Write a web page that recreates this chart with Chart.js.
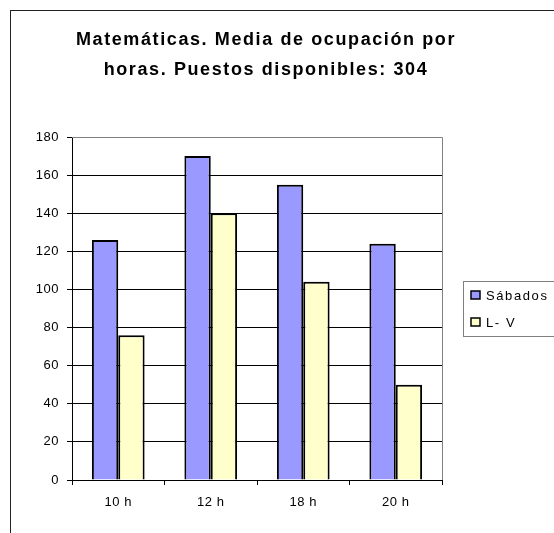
<!DOCTYPE html>
<html>
<head>
<meta charset="utf-8">
<script src="https://cdn.jsdelivr.net/npm/chart.js@4/dist/chart.umd.min.js"></script>
<style>
  html, body { margin: 0; padding: 0; background: #fff; }
  canvas { display: block; }
</style>
</head>
<body>
<canvas id="chart" width="554" height="533"></canvas>
<script>
const horas = ['10 h', '12 h', '18 h', '20 h'];
const sabados = [126, 170, 155, 124];
const lunesViernes = [76, 140, 104, 50];
const tituloLineas = ['Matemáticas. Media de ocupación por', 'horas. Puestos disponibles: 304'];

const FONT = "'Liberation Sans', Arial, sans-serif";

// marco exterior, borde gris del area de trazado y leyenda
const marcoPlugin = {
    id: 'marco',
    beforeDraw(chart) {
        const ctx = chart.ctx;
        ctx.save();
        ctx.fillStyle = '#fff';
        ctx.fillRect(0, 0, chart.width, chart.height);
        ctx.strokeStyle = '#222';
        ctx.lineWidth = 1;
        ctx.strokeRect(10.5, 10.5, 700, 700);
        ctx.restore();
        // el titulo de Excel sale con letras espaciadas
        ctx.letterSpacing = '1.6px';
    },
    beforeDatasetsDraw(chart) {
        chart.ctx.letterSpacing = '0.5px';
    },
    afterDraw(chart) {
        const a = chart.chartArea;
        const ctx = chart.ctx;
        ctx.save();
        ctx.strokeStyle = '#808080';
        ctx.lineWidth = 1;
        ctx.beginPath();
        ctx.moveTo(a.left, Math.round(a.top) + 0.5);
        ctx.lineTo(Math.round(a.right) + 0.5, Math.round(a.top) + 0.5);
        ctx.lineTo(Math.round(a.right) + 0.5, a.bottom);
        ctx.stroke();

        // leyenda
        ctx.strokeStyle = '#808080';
        ctx.strokeRect(463.5, 281.5, 120, 55);
        ctx.font = '13px ' + FONT;
        ctx.letterSpacing = '1.6px';
        ctx.textBaseline = 'middle';
        ctx.textAlign = 'left';
        chart.data.datasets.forEach((ds, i) => {
            const y = 295 + i * 27;
            ctx.fillStyle = ds.backgroundColor;
            ctx.fillRect(471, y - 4, 9, 8);
            ctx.strokeStyle = '#000';
            ctx.lineWidth = 1.5;
            ctx.strokeRect(471, y - 4, 9, 8);
            ctx.fillStyle = '#000';
            ctx.fillText(ds.label, 486, y + 1);
        });
        ctx.restore();
        ctx.letterSpacing = '0px';
    }
};

new Chart(document.getElementById('chart'), {
    type: 'bar',
    data: {
        labels: horas,
        datasets: [
            {
                label: 'Sábados',
                data: sabados,
                backgroundColor: '#9999FF',
                borderColor: '#000',
                borderWidth: 2
            },
            {
                label: 'L- V',
                data: lunesViernes,
                backgroundColor: '#FFFFCC',
                borderColor: '#000',
                borderWidth: 2
            }
        ]
    },
    options: {
        responsive: false,
        animation: false,
        layout: { padding: { left: 0, right: 22, top: 0, bottom: 0 } },
        datasets: {
            bar: { categoryPercentage: 0.57, barPercentage: 1 }
        },
        plugins: {
            legend: { display: false },
            tooltip: { enabled: false },
            title: {
                display: true,
                text: tituloLineas,
                color: '#000',
                font: { family: FONT, size: 18, weight: 'bold', lineHeight: 1.667 },
                padding: { top: 25, bottom: 52 }
            }
        },
        scales: {
            x: {
                grid: {
                    offset: true,
                    drawOnChartArea: false,
                    drawTicks: true,
                    tickLength: 5,
                    color: '#000'
                },
                border: { color: '#000', width: 1 },
                ticks: {
                    color: '#000',
                    padding: 10,
                    z: 1,
                    font: { family: FONT, size: 13 }
                },
                afterFit(scale) { scale.height = 53; }
            },
            y: {
                min: 0,
                max: 180,
                ticks: {
                    stepSize: 20,
                    color: '#000',
                    padding: 8,
                    z: 1,
                    font: { family: FONT, size: 13 }
                },
                grid: {
                    color: ctx => (ctx.tick && ctx.tick.value === 180) ? '#808080' : '#000',
                    tickColor: '#000',
                    tickLength: 5,
                    lineWidth: 1
                },
                border: { color: '#000', width: 1 },
                afterFit(scale) { scale.width = 72; }
            },
            espacio: {
                type: 'linear',
                position: 'right',
                display: true,
                grid: { display: false },
                border: { display: false },
                ticks: { display: false },
                afterFit(scale) { scale.width = 90; }
            }
        }
    },
    plugins: [marcoPlugin]
});
</script>
</body>
</html>
